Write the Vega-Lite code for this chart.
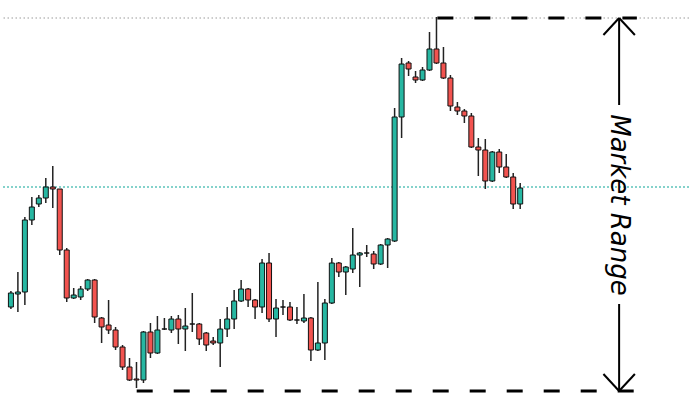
{
  "$schema": "https://vega.github.io/schema/vega-lite/v6.json",
  "width": 690,
  "height": 409,
  "autosize": {"type": "fit", "contains": "padding"},
  "padding": 0,
  "background": "white",
  "config": {"view": {"stroke": null}},
  "datasets": {
    "candles": [
      {"i":0,"open":102,"close":116,"high":118,"low":100},
      {"i":1,"open":115,"close":117,"high":137,"low":97},
      {"i":2,"open":117,"close":189,"high":192,"low":104},
      {"i":3,"open":189,"close":202,"high":212,"low":184},
      {"i":4,"open":205,"close":211,"high":214,"low":202},
      {"i":5,"open":211,"close":222,"high":231,"low":206},
      {"i":6,"open":222,"close":220,"high":243,"low":201},
      {"i":7,"open":220,"close":159,"high":220,"low":154},
      {"i":8,"open":159,"close":111,"high":161,"low":107},
      {"i":9,"open":111,"close":114,"high":121,"low":110},
      {"i":10,"open":112,"close":120,"high":123,"low":109},
      {"i":11,"open":120,"close":129,"high":130,"low":118},
      {"i":12,"open":129,"close":92,"high":130,"low":86},
      {"i":13,"open":91,"close":82,"high":92,"low":66},
      {"i":14,"open":84,"close":79,"high":109,"low":75},
      {"i":15,"open":79,"close":62,"high":82,"low":59},
      {"i":16,"open":62,"close":42,"high":64,"low":39},
      {"i":17,"open":42,"close":29,"high":51,"low":28},
      {"i":18,"open":30,"close":29,"high":47,"low":21},
      {"i":19,"open":29,"close":77,"high":78,"low":26},
      {"i":20,"open":77,"close":56,"high":86,"low":51},
      {"i":21,"open":56,"close":79,"high":93,"low":55},
      {"i":22,"open":80,"close":80,"high":91,"low":79},
      {"i":23,"open":79,"close":90,"high":93,"low":76},
      {"i":24,"open":90,"close":80,"high":94,"low":65},
      {"i":25,"open":80,"close":83,"high":101,"low":58},
      {"i":26,"open":85,"close":85,"high":116,"low":77},
      {"i":27,"open":85,"close":70,"high":86,"low":64},
      {"i":28,"open":76,"close":64,"high":77,"low":58},
      {"i":29,"open":68,"close":66,"high":72,"low":64},
      {"i":30,"open":66,"close":80,"high":90,"low":42},
      {"i":31,"open":80,"close":90,"high":102,"low":72},
      {"i":32,"open":90,"close":108,"high":119,"low":80},
      {"i":33,"open":108,"close":120,"high":129,"low":107},
      {"i":34,"open":120,"close":109,"high":121,"low":102},
      {"i":35,"open":109,"close":102,"high":110,"low":90},
      {"i":36,"open":102,"close":146,"high":150,"low":96},
      {"i":37,"open":146,"close":90,"high":156,"low":87},
      {"i":38,"open":90,"close":101,"high":110,"low":72},
      {"i":39,"open":102,"close":102,"high":109,"low":94},
      {"i":40,"open":102,"close":89,"high":107,"low":88},
      {"i":41,"open":89,"close":89,"high":102,"low":85},
      {"i":42,"open":88,"close":91,"high":115,"low":86},
      {"i":43,"open":91,"close":59,"high":92,"low":48},
      {"i":44,"open":59,"close":66,"high":127,"low":58},
      {"i":45,"open":66,"close":106,"high":110,"low":49},
      {"i":46,"open":106,"close":146,"high":151,"low":105},
      {"i":47,"open":146,"close":137,"high":147,"low":132},
      {"i":48,"open":137,"close":142,"high":143,"low":114},
      {"i":49,"open":140,"close":154,"high":181,"low":136},
      {"i":50,"open":154,"close":156,"high":157,"low":122},
      {"i":51,"open":156,"close":156,"high":164,"low":152},
      {"i":52,"open":155,"close":145,"high":158,"low":140},
      {"i":53,"open":145,"close":164,"high":165,"low":144},
      {"i":54,"open":164,"close":170,"high":171,"low":141},
      {"i":55,"open":168,"close":292,"high":301,"low":167},
      {"i":56,"open":292,"close":345,"high":351,"low":271},
      {"i":57,"open":346,"close":340,"high":348,"low":333},
      {"i":58,"open":332,"close":329,"high":338,"low":326},
      {"i":59,"open":329,"close":339,"high":342,"low":328},
      {"i":60,"open":339,"close":360,"high":377,"low":338},
      {"i":61,"open":360,"close":346,"high":392,"low":345},
      {"i":62,"open":346,"close":331,"high":362,"low":330},
      {"i":63,"open":331,"close":303,"high":334,"low":298},
      {"i":64,"open":302,"close":298,"high":307,"low":294},
      {"i":65,"open":298,"close":293,"high":300,"low":286},
      {"i":66,"open":293,"close":262,"high":296,"low":261},
      {"i":67,"open":262,"close":259,"high":271,"low":233},
      {"i":68,"open":259,"close":228,"high":270,"low":220},
      {"i":69,"open":228,"close":257,"high":258,"low":227},
      {"i":70,"open":257,"close":242,"high":260,"low":236},
      {"i":71,"open":242,"close":232,"high":255,"low":231},
      {"i":72,"open":232,"close":205,"high":236,"low":200},
      {"i":73,"open":205,"close":221,"high":226,"low":200}
    ]
  },
  "layer": [
    {
      "data": {"values": [{"level": 391}]},
      "mark": {"type": "rule", "color": "#9a9a9a", "strokeWidth": 1, "strokeDash": [1.5, 2.5]},
      "encoding": {
        "y": {"field": "level", "type": "quantitative", "scale": {"domain": [0, 409], "nice": false, "zero": false}, "axis": null}
      }
    },
    {
      "data": {"values": [{"level": 222}]},
      "mark": {"type": "rule", "color": "#5cc3ba", "strokeWidth": 1.5, "strokeDash": [2, 2]},
      "encoding": {
        "y": {"field": "level", "type": "quantitative", "scale": {"domain": [0, 409], "nice": false, "zero": false}, "axis": null}
      }
    },
    {
      "data": {"name": "candles"},
      "mark": {"type": "rule", "color": "#222222", "strokeWidth": 1.5},
      "encoding": {
        "x": {"field": "i", "type": "quantitative", "scale": {"domain": [-0.704, 96.48], "nice": false, "zero": false}, "axis": null},
        "y": {"field": "low", "type": "quantitative", "scale": {"domain": [0, 409], "nice": false, "zero": false}, "axis": null},
        "y2": {"field": "high"}
      }
    },
    {
      "data": {"name": "candles"},
      "mark": {"type": "bar", "width": 5, "stroke": "#111111", "strokeWidth": 1},
      "encoding": {
        "x": {"field": "i", "type": "quantitative", "scale": {"domain": [-0.704, 96.48], "nice": false, "zero": false}, "axis": null},
        "y": {"field": "open", "type": "quantitative", "scale": {"domain": [0, 409], "nice": false, "zero": false}, "axis": null},
        "y2": {"field": "close"},
        "color": {
          "condition": {"test": "datum.close > datum.open", "value": "#27b7a2"},
          "value": "#f2534f"
        }
      }
    },
    {
      "data": {"values": [
        {"xs": 61.13, "xe": 89.72, "level": 391},
        {"xs": 18.03, "xe": 92.25, "level": 18}
      ]},
      "mark": {"type": "rule", "color": "#000000", "strokeWidth": 3, "strokeDash": [16, 21]},
      "encoding": {
        "x": {"field": "xs", "type": "quantitative", "scale": {"domain": [-0.704, 96.48], "nice": false, "zero": false}, "axis": null},
        "x2": {"field": "xe"},
        "y": {"field": "level", "type": "quantitative", "scale": {"domain": [0, 409], "nice": false, "zero": false}, "axis": null}
      }
    },
    {
      "data": {"values": [
        {"xs": 87.18, "xe": 87.18, "ys": 391, "ye": 304},
        {"xs": 87.18, "xe": 87.18, "ys": 105, "ye": 18},
        {"xs": 84.93, "xe": 87.18, "ys": 374, "ye": 391},
        {"xs": 89.44, "xe": 87.18, "ys": 374, "ye": 391},
        {"xs": 84.93, "xe": 87.18, "ys": 35, "ye": 18},
        {"xs": 89.44, "xe": 87.18, "ys": 35, "ye": 18}
      ]},
      "mark": {"type": "rule", "color": "#000000", "strokeWidth": 2},
      "encoding": {
        "x": {"field": "xs", "type": "quantitative", "scale": {"domain": [-0.704, 96.48], "nice": false, "zero": false}, "axis": null},
        "x2": {"field": "xe"},
        "y": {"field": "ys", "type": "quantitative", "scale": {"domain": [0, 409], "nice": false, "zero": false}, "axis": null},
        "y2": {"field": "ye"}
      }
    },
    {
      "data": {"values": [{"xs": 87.18, "level": 204, "label": "Market Range"}]},
      "mark": {"type": "text", "angle": 90, "align": "center", "baseline": "middle", "font": "DejaVu Sans", "fontStyle": "italic", "fontSize": 26, "color": "#000000"},
      "encoding": {
        "x": {"field": "xs", "type": "quantitative", "scale": {"domain": [-0.704, 96.48], "nice": false, "zero": false}, "axis": null},
        "y": {"field": "level", "type": "quantitative", "scale": {"domain": [0, 409], "nice": false, "zero": false}, "axis": null},
        "text": {"field": "label"}
      }
    }
  ]
}
